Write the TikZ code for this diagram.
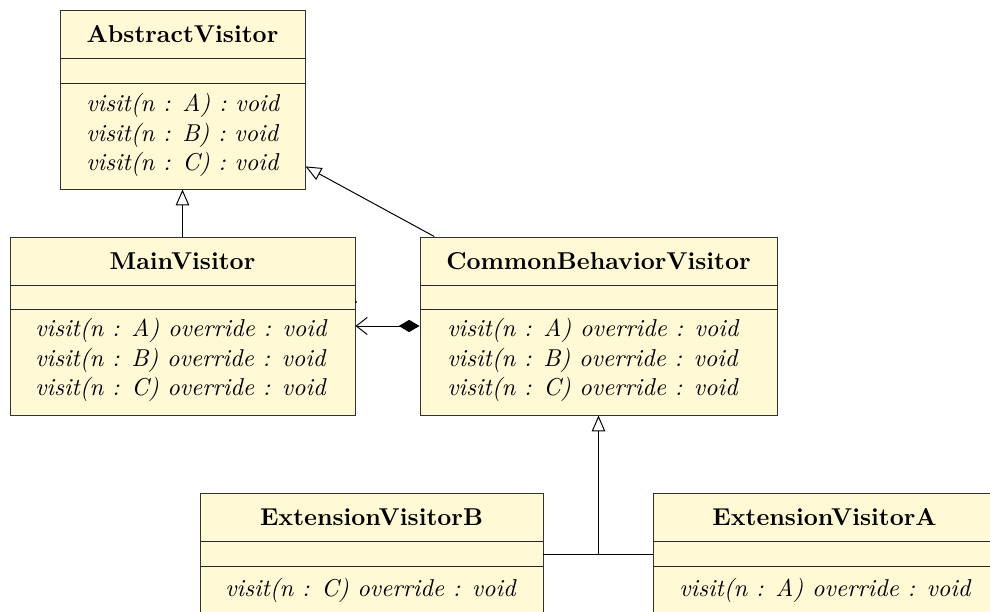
\documentclass[tikz,border=0pt]{standalone}
\usetikzlibrary{arrows.meta,fit}
\definecolor{classfill}{RGB}{255,249,214}
\begin{document}
\begin{tikzpicture}[x=0.41pt,y=-0.41pt,
  classbox/.style={draw=black!80, fill=classfill, line width=0.4pt, inner sep=0pt},
  partline/.style={draw=black!85, line width=0.4pt},
  classtitle/.style={font=\bfseries, inner sep=0pt},
  classops/.style={font=\itshape, align=left, inner sep=0pt},
  conn/.style={line width=0.4pt},
  inherit/.style={conn, -{Triangle[open,length=6.5pt,width=5.5pt]}},
  compose/.style={conn, {Diamond[length=8.5pt,width=5pt]}-{Straight Barb[length=4.5pt,width=7pt]}}
]
\useasboundingbox (0,0) rectangle (990,612);
\clip (0,0) rectangle (990,612);

% AbstractVisitor
\node[classbox, fit={(60,10) (305,189)}] (av) {};
\draw[partline] (60,58) -- (305,58);
\draw[partline] (60,83) -- (305,83);
\node[classtitle] (avt) at (182.5,34) {AbstractVisitor};
\node[classops, anchor=west] (avo) at (86,135) {visit(n : A) : void\\visit(n : B) : void\\visit(n : C) : void};

% MainVisitor
\node[classbox, fit={(10,237) (355,415)}] (mv) {};
\draw[partline] (10,285) -- (355,285);
\draw[partline] (10,309) -- (355,309);
\node[classtitle] (mvt) at (182.5,261) {MainVisitor};
\node[classops, anchor=west] (mvo) at (35,360) {visit(n : A) override : void\\visit(n : B) override : void\\visit(n : C) override : void};

% CommonBehaviorVisitor
\node[classbox, fit={(420,237) (777,415)}] (cbv) {};
\draw[partline] (420,285) -- (777,285);
\draw[partline] (420,309) -- (777,309);
\node[classtitle] (cbvt) at (598.5,261) {CommonBehaviorVisitor};
\node[classops, anchor=west] (cbvo) at (447,360) {visit(n : A) override : void\\visit(n : B) override : void\\visit(n : C) override : void};

% ExtensionVisitorB
\node[classbox, fit={(200,493) (543,615)}] (evb) {};
\draw[partline] (200,541) -- (543,541);
\draw[partline] (200,566) -- (543,566);
\node[classtitle] (evbt) at (371.5,517) {ExtensionVisitorB};
\node[classops, anchor=west] (evbo) at (225,590) {visit(n : C) override : void};

% ExtensionVisitorA
\node[classbox, fit={(653,493) (996,615)}] (eva) {};
\draw[partline] (653,541) -- (996,541);
\draw[partline] (653,566) -- (996,566);
\node[classtitle] (evat) at (824.5,517) {ExtensionVisitorA};
\node[classops, anchor=west] (evao) at (679,590) {visit(n : A) override : void};

% relations
\draw[inherit] (mv) -- (av);
\draw[inherit] (cbv) -- (av);
\draw[compose] (cbv) -- (mv);
\draw[conn] (evb) -- (eva);
\coordinate (join) at (evb -| cbv);
\draw[inherit] (join) -- (cbv);

% small mark beside MainVisitor
\fill (356,302) circle (0.45pt);
\end{tikzpicture}
\end{document}
